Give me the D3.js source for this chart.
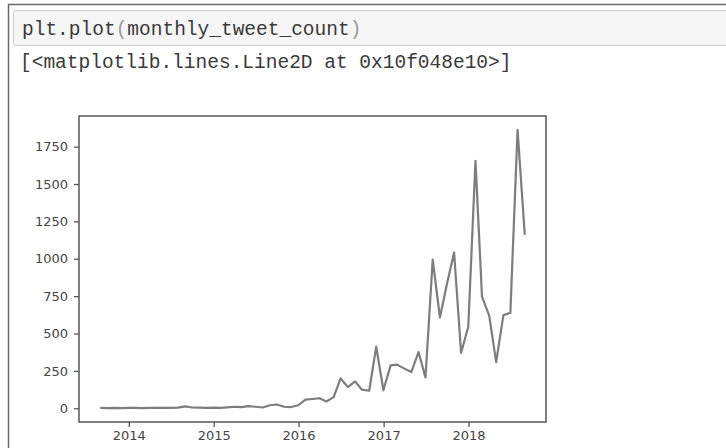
<!DOCTYPE html>
<html>
<head>
<meta charset="utf-8">
<script src="https://cdn.jsdelivr.net/npm/d3@7"></script>
<style>
  body { margin: 0; background: #fff; }
  svg { display: block; }
</style>
</head>
<body>
<svg id="chart"></svg>
<script>
const codeLine = "plt.plot(monthly_tweet_count)";
const outLine = "[<matplotlib.lines.Line2D at 0x10f048e10>]";

// monthly counts, Aug 2013 .. Aug 2018 (month-end)
const startMonth = "2013-08";
const counts = [
  2, 1, 2, 1, 2,                         // 2013 Aug-Dec
  2, 1, 2, 3, 2, 3, 4, 12, 5, 4, 3, 4,   // 2014
  3, 6, 10, 8, 14, 10, 5, 20, 25, 10, 8, 20, // 2015
  58, 62, 67, 45, 74, 200, 141, 180, 124, 117, 412, 120, // 2016
  287, 292, 265, 242, 376, 206, 995, 607, 830, 1042, 370, 545, // 2017
  1655, 746, 620, 309, 623, 638, 1862, 1160 // 2018 Jan-Aug
];
const yTicks = [0, 250, 500, 750, 1000, 1250, 1500, 1750];
const xTickYears = [2014, 2015, 2016, 2017, 2018];

const W = 726, H = 448;
const plot = { left: 79, right: 546, top: 116, bottom: 422 };
const ink = "#555";
const mono = "'Liberation Mono', 'DejaVu Sans Mono', monospace";

const svg = d3.select("#chart").attr("width", W).attr("height", H);

// notebook frame
svg.append("rect")
  .attr("x", 8.5).attr("y", 4.5)
  .attr("width", W + 20).attr("height", H + 20)
  .attr("fill", "none").attr("stroke", "#6a6a6a").attr("stroke-width", 1.5);

// code cell
svg.append("rect")
  .attr("x", 13.5).attr("y", 10.5)
  .attr("width", W).attr("height", 35)
  .attr("rx", 2)
  .attr("fill", "#f6f6f6").attr("stroke", "#cfcfcf");

const code = svg.append("text")
  .attr("x", 22).attr("y", 35)
  .style("font-family", mono)
  .style("font-size", "19.5px")
  .attr("fill", "#3a3a3a");
code.append("tspan").text("plt.plot");
code.append("tspan").attr("fill", "#999").text("(");
code.append("tspan").text("monthly_tweet_count");
code.append("tspan").attr("fill", "#999").text(")");

svg.append("text")
  .attr("x", 20).attr("y", 68)
  .style("font-family", mono)
  .style("font-size", "19.5px")
  .attr("fill", "#3a3a3a")
  .text(outLine);

// data
const parse = d3.timeParse("%Y-%m");
const first = parse(startMonth);
const data = counts.map((v, i) => {
  const m = d3.timeMonth.offset(first, i + 1);
  return { date: d3.timeDay.offset(m, -1), value: v };
});

const xExt = d3.extent(data, d => d.date);
const span = xExt[1] - xExt[0];
const x = d3.scaleTime()
  .domain([new Date(+xExt[0] - span * 0.05), new Date(+xExt[1] + span * 0.05)])
  .range([plot.left, plot.right]);

const yExt = d3.extent(data, d => d.value);
const yr = yExt[1] - yExt[0];
const y = d3.scaleLinear()
  .domain([yExt[0] - yr * 0.05, yExt[1] + yr * 0.05])
  .range([plot.bottom, plot.top]);

const g = svg.append("g");

// axes
const yAxis = g.append("g")
  .attr("transform", `translate(${plot.left},0)`)
  .call(d3.axisLeft(y).tickValues(yTicks).tickFormat(d3.format("d"))
    .tickSize(5).tickPadding(6).tickSizeOuter(0));
const xAxis = g.append("g")
  .attr("transform", `translate(0,${plot.bottom})`)
  .call(d3.axisBottom(x)
    .tickValues(xTickYears.map(yv => new Date(yv, 0, 1)))
    .tickFormat(d3.timeFormat("%Y"))
    .tickSize(5).tickPadding(4).tickSizeOuter(0));

[yAxis, xAxis].forEach(a => {
  a.select(".domain").remove();
  a.selectAll(".tick line").attr("stroke", ink).attr("stroke-width", 1.3);
  a.selectAll(".tick text")
    .attr("fill", "#444")
    .style("font-family", "'DejaVu Sans', sans-serif")
    .style("font-size", "13px");
});

// spines
g.append("rect")
  .attr("x", plot.left).attr("y", plot.top)
  .attr("width", plot.right - plot.left).attr("height", plot.bottom - plot.top)
  .attr("fill", "none").attr("stroke", ink).attr("stroke-width", 1.5);

// line
g.append("path")
  .datum(data)
  .attr("fill", "none")
  .attr("stroke", "#7d7d7d")
  .attr("stroke-width", 2.2)
  .attr("stroke-linejoin", "round")
  .attr("d", d3.line().x(d => x(d.date)).y(d => y(d.value)));
</script>
</body>
</html>
